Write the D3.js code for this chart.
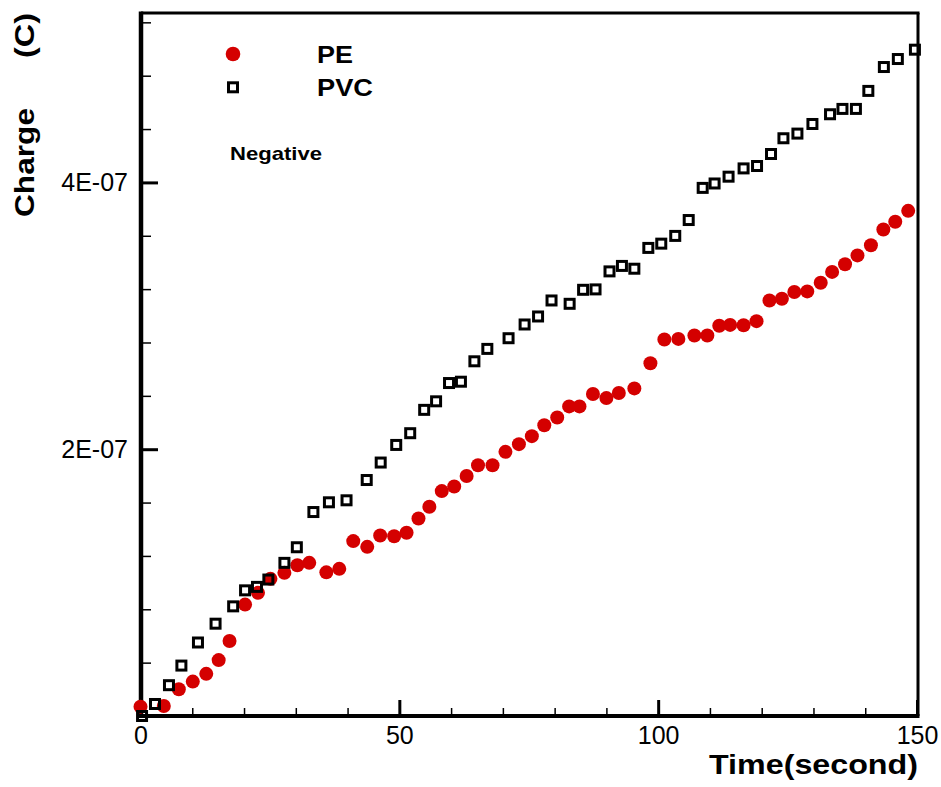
<!DOCTYPE html>
<html>
<head>
<meta charset="utf-8">
<script src="https://cdn.jsdelivr.net/npm/d3@7"></script>
<style>
  body { margin: 0; background: #fff; }
  text { font-family: "Liberation Sans", Arial, sans-serif; fill: #000; }
</style>
</head>
<body>
<div class="chart"></div>
<script>
// charge values are in units of 1E-07 C
const peTime = [0, 4.5, 7.4, 10.1, 12.7, 15.1, 17.2, 20.2, 22.7, 25.1, 27.8, 30.3, 32.6, 35.9, 38.4,
  41.1, 43.8, 46.3, 49.0, 51.4, 53.7, 55.8, 58.2, 60.6, 63.0, 65.2, 68.0, 70.5, 73.1, 75.6,
  78.0, 80.5, 82.8, 84.8, 87.4, 90.0, 92.4, 95.4, 98.5, 101.2, 103.9, 107.0, 109.5, 111.8, 113.9,
  116.5, 119.0, 121.5, 123.9, 126.3, 128.8, 131.4, 133.6, 136.1, 138.5, 141.1, 143.5, 145.8, 148.3];
const peCharge = [0.070, 0.075, 0.201, 0.258, 0.316, 0.419, 0.562, 0.835, 0.923, 1.028, 1.073, 1.130, 1.148, 1.077, 1.103,
  1.311, 1.268, 1.353, 1.348, 1.374, 1.481, 1.569, 1.686, 1.720, 1.799, 1.880, 1.880, 1.980, 2.038, 2.098,
  2.180, 2.238, 2.321, 2.321, 2.414, 2.383, 2.421, 2.456, 2.644, 2.822, 2.827, 2.852, 2.852, 2.925, 2.932,
  2.929, 2.960, 3.115, 3.128, 3.178, 3.183, 3.248, 3.329, 3.386, 3.453, 3.529, 3.647, 3.705, 3.787];

const pvcTime = [0.3, 2.8, 5.5, 7.9, 11.1, 14.5, 17.9, 20.2, 22.5, 24.7, 27.8, 30.2, 33.4, 36.4, 39.8,
  43.7, 46.4, 49.4, 52.1, 54.8, 57.1, 59.6, 61.9, 64.5, 67.0, 71.1, 74.2, 76.8, 79.4, 82.9,
  85.5, 87.9, 90.6, 93.0, 95.4, 98.1, 100.6, 103.3, 105.9, 108.6, 110.9, 113.6, 116.5, 119.1, 121.8,
  124.2, 126.9, 129.8, 133.2, 135.6, 138.2, 140.6, 143.6, 146.3, 149.6];
const pvcCharge = [0.000, 0.090, 0.231, 0.378, 0.551, 0.692, 0.822, 0.942, 0.968, 1.023, 1.148, 1.265, 1.529, 1.602, 1.617,
  1.769, 1.900, 2.032, 2.120, 2.295, 2.359, 2.496, 2.506, 2.659, 2.752, 2.832, 2.935, 2.995, 3.115, 3.090,
  3.195, 3.198, 3.333, 3.374, 3.353, 3.509, 3.541, 3.599, 3.718, 3.959, 3.992, 4.043, 4.105, 4.123, 4.213,
  4.331, 4.366, 4.438, 4.511, 4.551, 4.551, 4.686, 4.865, 4.925, 4.995];

const xMajor = [0, 50, 100, 150];
const xMinor = [10, 20, 30, 40, 60, 70, 80, 90, 110, 120, 130, 140];
const yMajor = [2, 4];
const yMajorLabels = ['2E-07', '4E-07'];
const yMinor = [0.4, 0.8, 1.2, 1.6, 2.4, 2.8, 3.2, 3.6, 4.4, 4.8, 5.2];

const W = 941, H = 787;
const plot = { left: 141, right: 918, top: 13, bottom: 716 };

const svg = d3.select('.chart')
  .append('svg')
  .attr('width', W)
  .attr('height', H);

const xScale = d3.scaleLinear().domain([0, 150]).range([140.5, 917]);
const yScale = d3.scaleLinear().domain([0, 5.27]).range([plot.bottom, plot.top]);

// minor ticks
svg.append('g')
  .attr('transform', `translate(0, ${plot.bottom})`)
  .call(d3.axisBottom(xScale).tickValues(xMinor).tickSize(-8).tickFormat(''))
  .call(g => g.select('.domain').remove())
  .call(g => g.selectAll('line').attr('stroke-width', 1.5));

svg.append('g')
  .attr('transform', `translate(${plot.left}, 0)`)
  .call(d3.axisLeft(yScale).tickValues(yMinor).tickSize(-10).tickFormat(''))
  .call(g => g.select('.domain').remove())
  .call(g => g.selectAll('line').attr('stroke-width', 1.5));

// major ticks + labels
svg.append('g')
  .attr('transform', `translate(0, ${plot.bottom})`)
  .call(d3.axisBottom(xScale).tickValues(xMajor).tickSize(-16).tickPadding(10))
  .call(g => g.select('.domain').remove())
  .call(g => g.selectAll('line').attr('stroke-width', 3))
  .call(g => g.selectAll('text')
    .attr('y', 28)
    .attr('dy', 0)
    .style('font-size', '25px'));

svg.append('g')
  .attr('transform', `translate(${plot.left}, 0)`)
  .call(d3.axisLeft(yScale).tickValues(yMajor).tickSize(-17).tickPadding(13)
    .tickFormat((d, i) => yMajorLabels[i]))
  .call(g => g.select('.domain').remove())
  .call(g => g.selectAll('line').attr('stroke-width', 3))
  .call(g => g.selectAll('text').style('font-size', '25px'));

// frame
svg.append('line').attr('x1', plot.left).attr('x2', plot.left)
  .attr('y1', plot.top - 1.5).attr('y2', plot.bottom + 2)
  .attr('stroke', '#000').attr('stroke-width', 4.5);
svg.append('line').attr('x1', plot.left).attr('x2', plot.right + 1.5)
  .attr('y1', plot.bottom).attr('y2', plot.bottom)
  .attr('stroke', '#000').attr('stroke-width', 4);
svg.append('line').attr('x1', plot.left).attr('x2', plot.right + 1.5)
  .attr('y1', plot.top).attr('y2', plot.top)
  .attr('stroke', '#000').attr('stroke-width', 3);
svg.append('line').attr('x1', plot.right).attr('x2', plot.right)
  .attr('y1', plot.top).attr('y2', plot.bottom)
  .attr('stroke', '#000').attr('stroke-width', 3);

// data
const pe = peTime.map((t, i) => ({ t, c: peCharge[i] }));
const pvc = pvcTime.map((t, i) => ({ t, c: pvcCharge[i] }));

svg.append('g').selectAll('circle')
  .data(pe)
  .enter()
  .append('circle')
  .attr('cx', d => xScale(d.t))
  .attr('cy', d => yScale(d.c))
  .attr('r', 7)
  .style('fill', '#d40000');

svg.append('g').selectAll('rect')
  .data(pvc)
  .enter()
  .append('rect')
  .attr('x', d => xScale(d.t) - 4.5)
  .attr('y', d => yScale(d.c) - 4.5)
  .attr('width', 9)
  .attr('height', 9)
  .style('fill', 'none')
  .style('stroke', '#000')
  .style('stroke-width', 3);

// legend
svg.append('circle').attr('cx', 233).attr('cy', 54).attr('r', 7.3).style('fill', '#d40000');
svg.append('rect').attr('x', 228.5).attr('y', 82.8).attr('width', 9).attr('height', 9)
  .style('fill', 'none').style('stroke', '#000').style('stroke-width', 3);

svg.append('text').attr('x', 317).attr('y', 63).text('PE')
  .style('font-size', '23px').style('font-weight', 'bold')
  .attr('textLength', 36).attr('lengthAdjust', 'spacingAndGlyphs');
svg.append('text').attr('x', 317).attr('y', 96).text('PVC')
  .style('font-size', '23px').style('font-weight', 'bold')
  .attr('textLength', 56).attr('lengthAdjust', 'spacingAndGlyphs');
svg.append('text').attr('x', 230).attr('y', 160).text('Negative')
  .style('font-size', '18.5px').style('font-weight', 'bold')
  .attr('textLength', 92).attr('lengthAdjust', 'spacingAndGlyphs');

// axis titles
svg.append('text').attr('x', 709).attr('y', 774).text('Time(second)')
  .style('font-size', '28px').style('font-weight', 'bold')
  .attr('textLength', 209).attr('lengthAdjust', 'spacingAndGlyphs');

svg.append('text')
  .attr('transform', 'translate(34, 162.5) rotate(-90)')
  .style('text-anchor', 'middle')
  .style('font-size', '28px').style('font-weight', 'bold')
  .attr('textLength', 109).attr('lengthAdjust', 'spacingAndGlyphs')
  .text('Charge');
svg.append('text')
  .attr('transform', 'translate(34, 35.5) rotate(-90)')
  .style('text-anchor', 'middle')
  .style('font-size', '28px').style('font-weight', 'bold')
  .attr('textLength', 45).attr('lengthAdjust', 'spacingAndGlyphs')
  .text('(C)');
</script>
</body>
</html>
